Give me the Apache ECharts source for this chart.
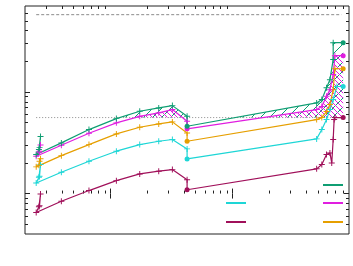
<!DOCTYPE html>
<html><head><meta charset="utf-8">
<script src="https://cdn.jsdelivr.net/npm/echarts@6/dist/echarts.min.js"></script>
<style>html,body{margin:0;padding:0;background:#fff}#c{width:353px;height:266px}</style>
</head><body><div id="c"></div>
<script>
// ---- data (log-log axes) ----
const xRange = [2, 900];
const yRange = [0.4, 70];
const xMajorTicks = [10, 100];
const xMinorTicks = [3,4,5,6,7,8,9,20,30,40,50,60,70,80,90,200,300,400,500,600,700,800];
const yMajorTicks = [1, 10];
const yMinorTicks = [0.5,0.6,0.7,0.8,0.9,2,3,4,5,6,7,8,9,20,30,40,50,60];

const greenX   = [2.63,2.68,2.6,2.47,3.97,6.68,11.2,17.4,24.9,32.2,42.5,42.5,489,539,589,628,668,668,806];
const greenY   = [2.83,3.64,2.71,2.42,3.15,4.26,5.46,6.45,6.96,7.33,5.75,4.59,7.79,8.40,11.0,13.2,20.8,30.5,30.5];
const magentaX = [2.63,2.68,2.6,2.47,3.97,6.68,11.2,17.4,24.9,32.2,42.5,42.5,489,539,589,628,668,690,806];
const magentaY = [2.61,3.0,2.55,2.33,2.99,3.92,4.96,5.75,6.22,6.70,5.14,4.33,6.70,7.17,9.05,10.5,14.8,22.7,22.7];
const orangeX  = [2.63,2.68,2.6,2.47,3.97,6.68,11.2,17.4,24.9,32.2,42.5,42.5,489,539,589,628,668,690,806];
const orangeY  = [2.08,2.2,1.90,1.83,2.36,3.03,3.86,4.49,4.84,5.07,3.95,3.27,5.34,5.59,6.40,7.50,10.5,16.9,16.9];
const cyanX    = [2.63,2.68,2.6,2.47,3.97,6.68,11.2,17.4,24.9,32.2,42.5,42.5,489,539,589,628,668,716,806];
const cyanY    = [1.48,1.93,1.45,1.27,1.62,2.08,2.61,3.03,3.27,3.40,2.75,2.19,3.45,4.26,5.34,6.70,8.40,11.3,11.3];
const crimsonX = [2.63,2.68,2.6,2.47,3.97,6.68,11.2,17.4,24.9,32.2,42.5,42.5,489,539,589,628,650,668,680,690,806];
const crimsonY = [0.76,0.99,0.74,0.65,0.84,1.07,1.34,1.56,1.66,1.72,1.37,1.09,1.75,1.93,2.42,2.51,2.00,3.40,5.34,5.59,5.59];
const dashedX = [2.47, 780];   const dashedY = [57.5, 57.5];
const dottedX = [2.47, 832];   const dottedY = [5.59, 5.59];
const threshold = 5.59;
const dotIndexes = { green:[11,18], magenta:[11,18], orange:[11,18], cyan:[11,18], crimson:[11,20] };

// ---- styling ----
const COLORS = { green:'#0f9e73', magenta:'#e01ee0', orange:'#e69f00', cyan:'#1ed6d6', crimson:'#a0105a' };
const PLUS = 'path://M0,4.2H10V5.8H0Z M4.2,0H5.8V10H4.2Z';
const L = Math.log10;

function items(xs, ys, dots){
  return xs.map((x,i)=>{
    const isDot = dots.indexOf(i) >= 0;
    return { value:[x, ys[i]], symbol: isDot ? 'circle' : PLUS, symbolSize: isDot ? 5 : 6 };
  });
}
function lineSeries(name, xs, ys){
  return { name, type:'line', xAxisIndex:0, yAxisIndex:0, data: items(xs, ys, dotIndexes[name]),
    showSymbol:true, symbolKeepAspect:true, color: COLORS[name],
    lineStyle:{ width:1.2, color: COLORS[name] }, itemStyle:{ color: COLORS[name] }, z:5 };
}
function hatchCanvas(color, dirs, size){
  const c = document.createElement('canvas'); c.width = size; c.height = size;
  const g = c.getContext('2d'); g.strokeStyle = color; g.lineWidth = 1;
  dirs.forEach(d=>{
    g.beginPath();
    if (d === '/') { g.moveTo(-1, size+1); g.lineTo(size+1, -1); }
    else { g.moveTo(-1, -1); g.lineTo(size+1, size+1); }
    g.stroke();
  });
  return c;
}
function hatchSeries(xs, ys, canvas){
  return { type:'custom', xAxisIndex:0, yAxisIndex:0, data:[[10, threshold]], z:2, silent:true,
    renderItem(params, api){
      const ty = api.coord([10, threshold])[1];
      const pts = [];
      for (let i = 3; i < xs.length; i++){
        const p = api.coord([xs[i], ys[i]]);
        if (i > 3){
          const q = api.coord([xs[i-1], ys[i-1]]);
          if ((q[1] < ty) !== (p[1] < ty) && p[1] !== q[1]){
            const t = (ty - q[1]) / (p[1] - q[1]);
            pts.push([q[0] + t*(p[0]-q[0]), ty]);
          }
        }
        pts.push([p[0], Math.min(p[1], ty)]);
      }
      pts.push([pts[pts.length-1][0], ty]);
      pts.push([pts[0][0], ty]);
      return { type:'polygon', shape:{ points: pts },
        style:{ fill:{ image: canvas, repeat:'repeat' }, stroke:null } };
    }
  };
}
function tickAxis(kind, pos, range, vals, len){
  return { type:'value', position:pos, min:L(range[0]), max:L(range[1]),
    axisLine:{show:false}, axisLabel:{show:false}, splitLine:{show:false},
    axisTick:{ show:true, inside:true, length:len, customValues: vals.map(L),
      lineStyle:{ color:'#222', width:1 } } };
}

const chart = echarts.init(document.getElementById('c'), null, { renderer:'canvas' });
const series = [
  hatchSeries(greenX, greenY, hatchCanvas(COLORS.green, ['/'], 9)),
  hatchSeries(magentaX, magentaY, hatchCanvas(COLORS.magenta, ['\\'], 5)),
  { type:'line', xAxisIndex:0, yAxisIndex:0, data: dashedX.map((x,i)=>[x, dashedY[i]]), showSymbol:false,
    lineStyle:{ color:'#8a8a8a', width:1, type:[3,2] }, z:3, silent:true },
  { type:'line', xAxisIndex:0, yAxisIndex:0, data: dottedX.map((x,i)=>[x, dottedY[i]]), showSymbol:false,
    lineStyle:{ color:'#8a8a8a', width:1, type:[1,2] }, z:3, silent:true },
  lineSeries('crimson', crimsonX, crimsonY),
  lineSeries('cyan', cyanX, cyanY),
  lineSeries('orange', orangeX, orangeY),
  lineSeries('magenta', magentaX, magentaY),
  lineSeries('green', greenX, greenY)
];
function legendAt(name, left, y){
  return { data:[name], left, top: y - 1, padding:0, icon:'rect', itemWidth:20, itemHeight:2,
    selectedMode:false, formatter: () => '', textStyle:{ fontSize:1 } };
}
chart.setOption({
  animation:false,
  backgroundColor:'#fff',
  grid:{ left:25, right:4, top:6, bottom:32, show:true, borderColor:'#222', borderWidth:1 },
  legend:[
    legendAt('green', 323, 185),
    legendAt('cyan', 226, 203),
    legendAt('magenta', 323, 203),
    legendAt('crimson', 226, 222),
    legendAt('orange', 323, 222)
  ],
  xAxis:[
    { type:'log', logBase:10, min:xRange[0], max:xRange[1], position:'bottom',
      axisLine:{show:false}, axisTick:{show:false}, axisLabel:{show:false}, splitLine:{show:false} },
    tickAxis('x','bottom', xRange, xMajorTicks, 5),
    tickAxis('x','bottom', xRange, xMinorTicks, 3),
    tickAxis('x','top', xRange, xMajorTicks, 5),
    tickAxis('x','top', xRange, xMinorTicks, 3)
  ],
  yAxis:[
    { type:'log', logBase:10, min:yRange[0], max:yRange[1], position:'left',
      axisLine:{show:false}, axisTick:{show:false}, axisLabel:{show:false}, splitLine:{show:false} },
    tickAxis('y','left', yRange, yMajorTicks, 5),
    tickAxis('y','left', yRange, yMinorTicks, 3),
    tickAxis('y','right', yRange, yMajorTicks, 5),
    tickAxis('y','right', yRange, yMinorTicks, 3)
  ],
  series
});
</script></body></html>
